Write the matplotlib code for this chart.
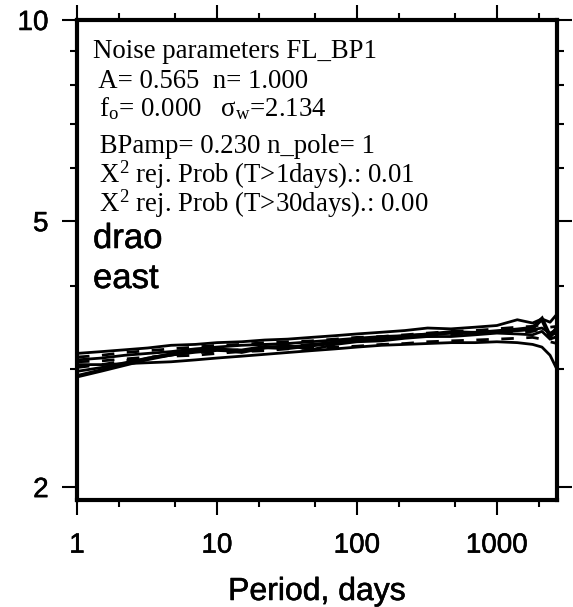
import numpy as np
import matplotlib
matplotlib.use('Agg')
import matplotlib.pyplot as plt
import matplotlib.patheffects as pe
from matplotlib.ticker import FixedLocator, NullFormatter

plt.rcParams['mathtext.fontset'] = 'custom'
plt.rcParams['mathtext.rm'] = 'Liberation Serif'
plt.rcParams['mathtext.it'] = 'Liberation Serif:italic'

# Period grid (days) shared by all curves
periods = [1, 1.5, 2.2, 3.2, 4.7, 7, 10, 15, 22, 32, 47, 70, 100, 150, 220,
           320, 470, 700, 1000, 1400, 1800, 2100, 2400, 2690]

# Solid curves
curve_a = [3.17, 3.19, 3.21, 3.23, 3.26, 3.27, 3.29, 3.30, 3.32, 3.33, 3.35, 3.37,
           3.39, 3.41, 3.43, 3.46, 3.45, 3.47, 3.49, 3.56, 3.52, 3.57, 3.53, 3.63]
curve_c = [2.93, 2.99, 3.05, 3.11, 3.16, 3.19, 3.21, 3.20, 3.24, 3.23, 3.26, 3.29,
           3.32, 3.34, 3.36, 3.38, 3.41, 3.40, 3.42, 3.44, 3.46, 3.57, 3.36, 3.46]
curve_d = [3.05, 3.05, 3.06, 3.07, 3.08, 3.10, 3.12, 3.14, 3.16, 3.18, 3.20, 3.22,
           3.24, 3.26, 3.27, 3.28, 3.29, 3.29, 3.30, 3.29, 3.27, 3.24, 3.15, 3.00]
curve_f = [2.98, 3.02, 3.07, 3.12, 3.15, 3.20, 3.22, 3.18, 3.23, 3.26, 3.21, 3.27,
           3.30, 3.31, 3.34, 3.36, 3.36, 3.38, 3.40, 3.39, 3.38, 3.42, 3.33, 3.36]
curve_g = [3.10, 3.12, 3.15, 3.17, 3.19, 3.22, 3.24, 3.26, 3.27, 3.28, 3.30, 3.32,
           3.34, 3.36, 3.37, 3.39, 3.40, 3.41, 3.42, 3.43, 3.44, 3.46, 3.40, 3.44]

# Dashed curves
curve_b = [3.13, 3.15, 3.18, 3.20, 3.22, 3.24, 3.26, 3.27, 3.29, 3.30, 3.31, 3.33,
           3.35, 3.36, 3.38, 3.40, 3.42, 3.43, 3.45, 3.47, 3.48, 3.50, 3.47, 3.48]
curve_e = [3.08, 3.09, 3.11, 3.13, 3.14, 3.15, 3.17, 3.19, 3.20, 3.22, 3.23, 3.24,
           3.25, 3.27, 3.28, 3.30, 3.31, 3.32, 3.33, 3.34, 3.35, 3.33, 3.30, 3.28]
curve_h = [3.02, 3.05, 3.09, 3.12, 3.16, 3.18, 3.19, 3.21, 3.23, 3.25, 3.27, 3.29,
           3.31, 3.33, 3.35, 3.36, 3.38, 3.39, 3.41, 3.40, 3.42, 3.45, 3.38, 3.40]

info_lines = [
    'Noise parameters FL_BP1',
    ' A= 0.565  n= 1.000',
    ' f$_\\mathrm{o}$= 0.000   \u03c3$_\\mathrm{w}$=2.134',
    ' BPamp= 0.230 n_pole= 1',
    ' X$^\\mathrm{2}$ rej. Prob (T>1days).: 0.01',
    ' X$^\\mathrm{2}$ rej. Prob (T>30days).: 0.00',
]
info_baselines = [58, 88, 116, 153, 183, 212]  # pixel rows in the figure

W, H = 573, 607
fig = plt.figure(figsize=(W / 100, H / 100), dpi=100)
ax = fig.add_axes([77 / W, (H - 500) / H, 480 / W, 480 / H])

# slightly heavier look for the sans texts (GMT Helvetica)
heavy = [pe.withStroke(linewidth=0.4, foreground='black')]

for ys in [curve_a, curve_d, curve_f, curve_g]:
    ax.plot(periods, ys, color='black', lw=2.0, solid_joinstyle='round')
ax.plot(periods, curve_c, color='black', lw=3.0, solid_joinstyle='miter')
for ys in [curve_b, curve_e, curve_h]:
    ax.plot(periods, ys, color='black', lw=2.0, linestyle=(0, (4.5, 4.5)))

ax.set_xscale('log')
ax.set_yscale('log')
ax.set_xlim(1, 2690)
ax.set_ylim(1.913, 10)

ax.xaxis.set_major_locator(FixedLocator([1, 10, 100, 1000]))
ax.xaxis.set_minor_locator(FixedLocator([2, 5, 20, 50, 200, 500, 2000]))
ax.set_xticklabels(['1', '10', '100', '1000'])
ax.xaxis.set_minor_formatter(NullFormatter())
ax.yaxis.set_major_locator(FixedLocator([2, 5, 10]))
ax.yaxis.set_minor_locator(FixedLocator([3, 4, 6, 7, 8, 9]))
ax.set_yticklabels(['2', '5', '10'])
ax.yaxis.set_minor_formatter(NullFormatter())

for side in ['left', 'right', 'top', 'bottom']:
    ax.spines[side].set_linewidth(3.0)

ax.tick_params(which='both', direction='out', top=True, right=True, width=1.5,
               labelsize=20, labelfontfamily='Liberation Sans')
ax.tick_params(which='major', length=10.5)
ax.tick_params(which='minor', length=5)
ax.tick_params(axis='x', which='major', pad=13)
ax.tick_params(axis='y', which='major', pad=10)
for lab in ax.get_xticklabels() + ax.get_yticklabels():
    lab.set_path_effects(heavy)

fig.text((77 + 240) / W, (H - 600) / H, 'Period, days', fontsize=23,
         family='Liberation Sans', ha='center', va='baseline', path_effects=heavy)

for line, yb in zip(info_lines, info_baselines):
    ax.text(16 / 480, (500 - yb) / 480, line, transform=ax.transAxes,
            family='Liberation Serif', fontsize=19.3, va='baseline', ha='left')

ax.text(16 / 480, (500 - 248) / 480, 'drao', transform=ax.transAxes,
        family='Liberation Sans', fontsize=25, va='baseline', ha='left',
        path_effects=heavy)
ax.text(16 / 480, (500 - 288) / 480, 'east', transform=ax.transAxes,
        family='Liberation Sans', fontsize=25, va='baseline', ha='left',
        path_effects=heavy)

fig.savefig('out.png', dpi=100)
